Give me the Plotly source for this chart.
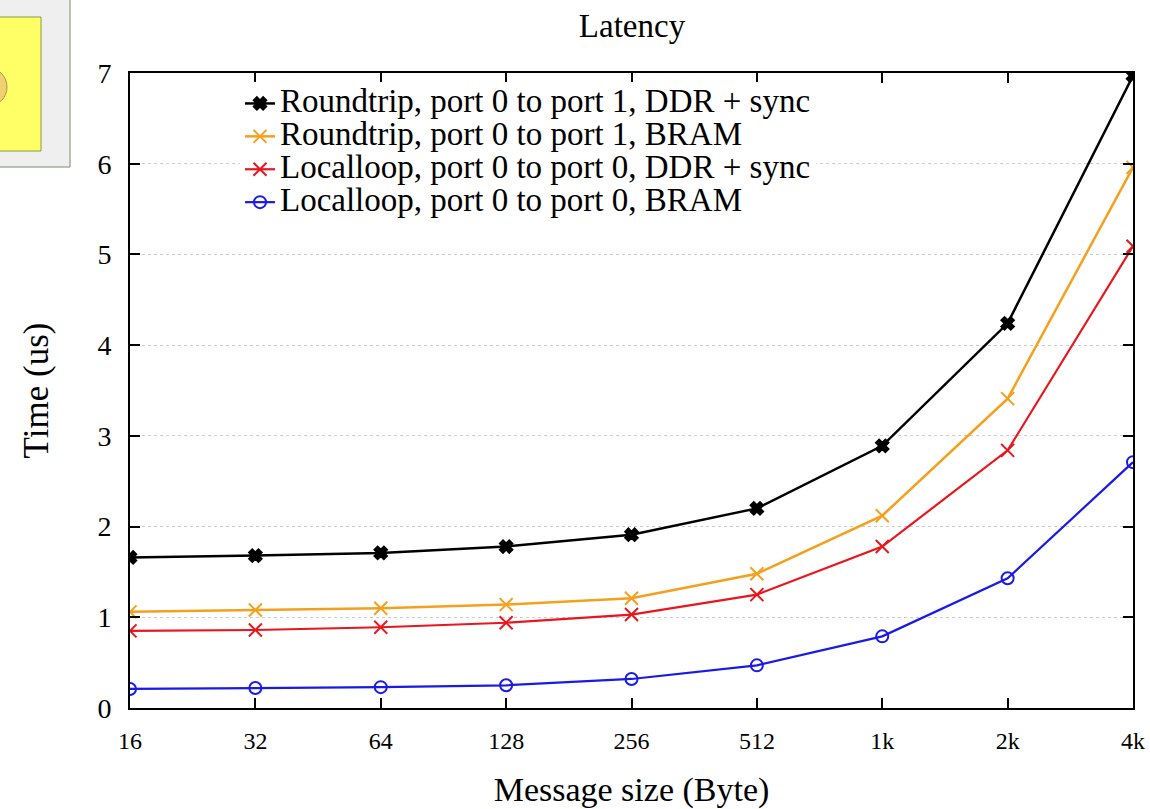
import plotly.graph_objects as go

sizes = ["16", "32", "64", "128", "256", "512", "1k", "2k", "4k"]
rt_ddr = [1.66, 1.68, 1.71, 1.78, 1.91, 2.20, 2.89, 4.24, 6.97]
rt_bram = [1.06, 1.08, 1.10, 1.14, 1.21, 1.48, 2.12, 3.41, 5.96]
ll_ddr = [0.85, 0.86, 0.89, 0.94, 1.03, 1.25, 1.78, 2.84, 5.09]
ll_bram = [0.21, 0.22, 0.23, 0.25, 0.32, 0.47, 0.79, 1.43, 2.71]

names = ["Roundtrip, port 0 to port 1, DDR + sync",
         "Roundtrip, port 0 to port 1, BRAM",
         "Localloop, port 0 to port 0, DDR + sync",
         "Localloop, port 0 to port 0, BRAM"]
series = [rt_ddr, rt_bram, ll_ddr, ll_bram]
colors = ["#000000", "#f5a01c", "#e8161e", "#1a1ae6"]
symbols = ["x", "x-thin-open", "x-thin-open", "circle-open"]
msizes = [11, 13, 13, 12]
widths = [2.5, 2.5, 2.2, 2.2]

xi = list(range(len(sizes)))
FONT = "Liberation Serif"

fig = go.Figure()
for nm, ys, c, s, ms, w in zip(names, series, colors, symbols, msizes, widths):
    fig.add_trace(go.Scatter(
        x=xi, y=ys, name='<span style="font-size:33px">' + nm + '</span>',
        mode="lines+markers",
        line=dict(color=c, width=w),
        marker=dict(symbol=s, size=ms, color=c, line=dict(color=c, width=2)),
    ))

# body margin removed via post_script, so page pixels == figure pixels
W, H = 1150, 809
PL, PR, PT, PB = 130, 1133, 73, 708  # plot area in page pixels
L, R, T, B = PL, W - PR, PT, H - PB

def px(x):
    return (x - PL) / (PR - PL)

def py(y):
    return (PB - y) / (PB - PT)

shapes = [
    dict(type="rect", xref="paper", yref="paper", x0=px(-5), x1=px(70), y0=py(167), y1=py(-5),
         fillcolor="#efefef", line=dict(color="#7a8a6a", width=1), layer="above"),
    dict(type="rect", xref="paper", yref="paper", x0=px(-5), x1=px(41), y0=py(151), y1=py(17),
         fillcolor="#ffff66", line=dict(color="#8a9a40", width=1), layer="above"),
    dict(type="circle", xref="paper", yref="paper", x0=px(-30), x1=px(7), y0=py(106), y1=py(68),
         fillcolor="#f0d070", line=dict(color="#b09050", width=1), layer="above"),
]

fig.update_layout(
    width=W, height=H,
    margin=dict(l=L, r=R, t=T, b=B, autoexpand=False),
    paper_bgcolor="white", plot_bgcolor="white",
    font=dict(family=FONT, color="black"),
    title=dict(text="Latency", xref="container", x=632 / W, xanchor="center",
               yref="container", y=1 - 25 / H, yanchor="middle",
               font=dict(size=33, family=FONT)),
    shapes=shapes,
    legend=dict(x=px(240), y=py(82), xanchor="left", yanchor="top",
                bgcolor="white", borderwidth=0, font=dict(size=23, family=FONT),
                tracegroupgap=0),
    showlegend=True,
)
fig.update_xaxes(
    range=[0, len(sizes) - 1], tickmode="array", tickvals=xi, ticktext=sizes,
    ticks="inside", ticklen=10, tickwidth=2, tickcolor="black",
    showline=True, linecolor="black", linewidth=2, mirror="ticks",
    showgrid=False, zeroline=False, automargin=False,
    tickfont=dict(size=24, family=FONT), ticklabelstandoff=10,
    title=dict(text="Message size (Byte)", font=dict(size=34, family=FONT), standoff=25),
)
fig.update_yaxes(
    range=[0, 7], tickmode="array", tickvals=list(range(8)),
    ticks="inside", ticklen=10, tickwidth=2, tickcolor="black",
    showline=True, linecolor="black", linewidth=2, mirror="ticks",
    showgrid=True, gridcolor="#cccccc", griddash="dot", gridwidth=1, zeroline=False,
    automargin=False,
    tickfont=dict(size=28, family=FONT), ticklabelstandoff=11,
    title=dict(text="Time (us)", font=dict(size=35, family=FONT), standoff=38),
)

fig.write_html("out.html", config={"displayModeBar": False},
               post_script="document.body.style.margin='0px';document.body.style.overflow='hidden';")
